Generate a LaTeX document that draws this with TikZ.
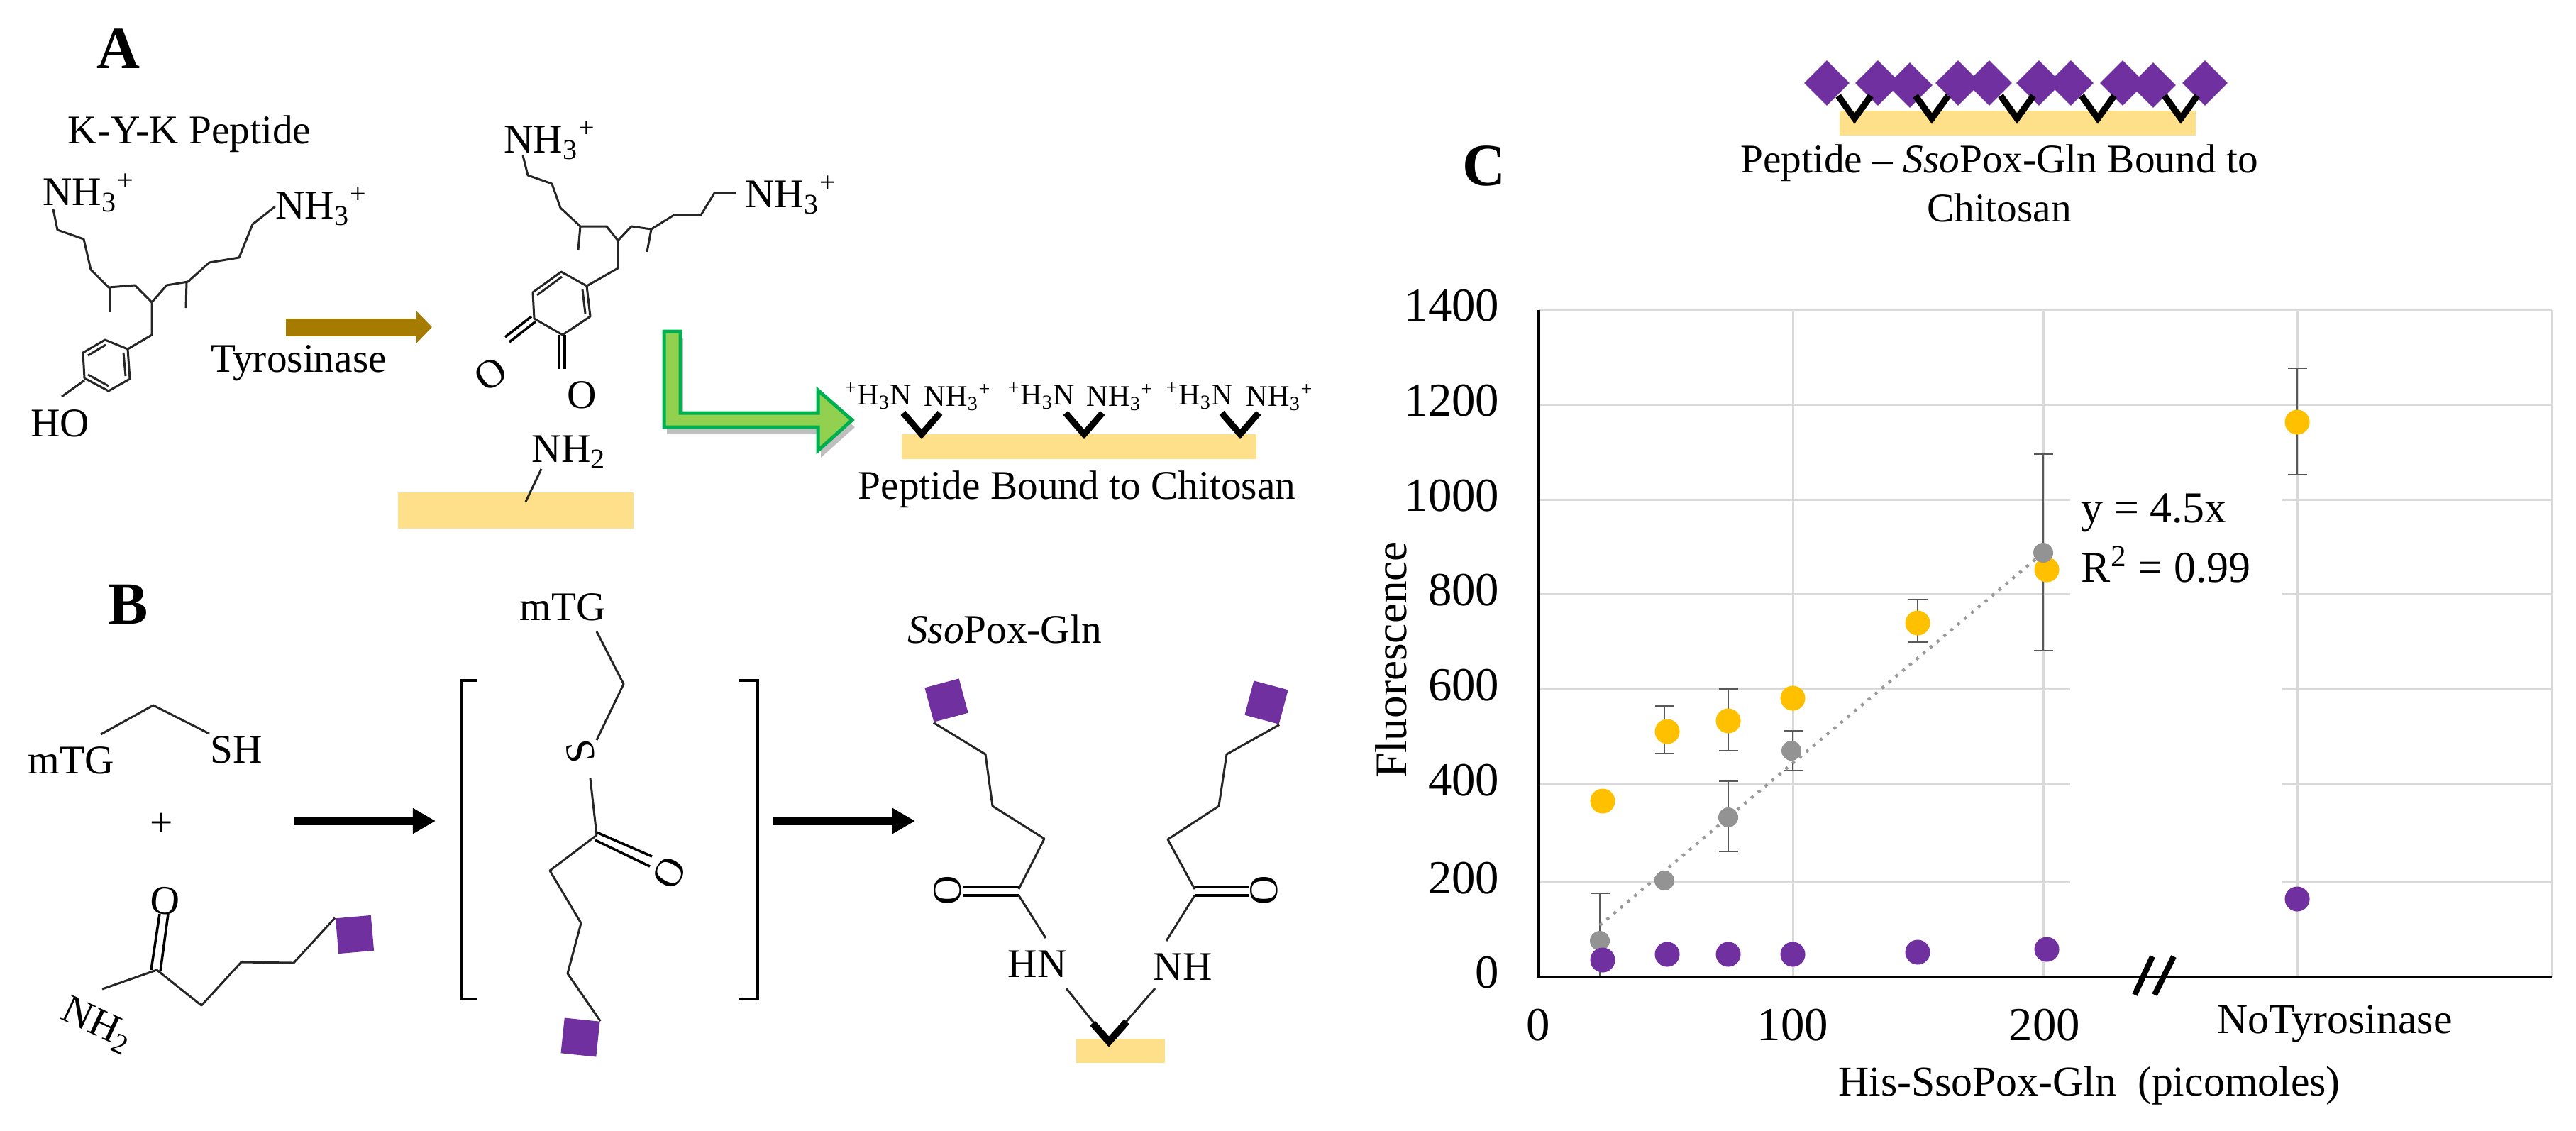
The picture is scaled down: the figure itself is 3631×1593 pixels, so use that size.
\documentclass[tikz,border=0pt]{standalone}
\usepackage{fontspec}
\setmainfont{Liberation Serif}
\usetikzlibrary{shadows, arrows.meta}
\definecolor{chitosan}{HTML}{FFE08A}
\definecolor{enzyme}{HTML}{7030A0}
\definecolor{seriesyellow}{HTML}{FFC000}
\definecolor{seriesgray}{HTML}{939393}
\definecolor{tyrbrown}{HTML}{A67C00}
\definecolor{arrowfill}{HTML}{92D050}
\definecolor{arrowline}{HTML}{00B050}
\tikzset{
    atom/.style = {inner sep=0pt, font=\fontsize{16.3}{19.6}\selectfont},
    smallatom/.style = {inner sep=0pt, font=\fontsize{12}{14}\selectfont},
    panel/.style = {inner sep=0pt, font=\fontsize{24}{28}\selectfont\bfseries},
    ticklabel/.style = {inner sep=0pt, font=\fontsize{19}{22}\selectfont},
    axislabel/.style = {inner sep=0pt, font=\fontsize{17}{20}\selectfont},
    bond/.style = {draw=black!85, line width=0.85pt, line join=round},
    dbond/.style = {draw=black, line width=1pt},
    linker/.style = {draw=black, line width=0.09cm, miter limit=10},
    reaction/.style = {draw=black, line width=0.11cm, -{Triangle[length=0.32cm, width=0.34cm]}},
    bar/.style = {fill=chitosan},
    enzbox/.style = {rectangle, fill=enzyme, inner sep=0pt, minimum size=0.5cm},
    enzdiamond/.style = {rectangle, fill=enzyme, inner sep=0pt, minimum size=0.45cm, rotate=45},
    gridline/.style = {draw=black!15, line width=0.03cm},
    axisline/.style = {draw=black, line width=0.04cm},
    errline/.style = {draw=black!65, line width=0.025cm},
    dot/.style = {circle, inner sep=0pt, minimum size=0.35cm},
}
\newcommand{\errbar}[3]{\draw[errline] (#1-13.5,#2) -- (#1+13.5,#2) (#1,#2) -- (#1,#3) (#1-13.5,#3) -- (#1+13.5,#3);}

\begin{document}
\begin{tikzpicture}[x=0.01cm, y=-0.01cm]
    \useasboundingbox (0,0) rectangle (3631,1593);

    % panel A
    \node (pa) [panel] at (167,69) {A};
    \node (kyk) [atom] at (267,189) {K-Y-K Peptide};
    \node (nha) [atom] at (125,272) {NH\textsubscript{3}\textsuperscript{+}};
    \node (nhb) [atom] at (453,291) {NH\textsubscript{3}\textsuperscript{+}};
    \node (ho) [atom] at (85,597) {HO};
    \draw[bond] (nha.center) ++(-50,23) -- (81,324) -- (118,337) -- (128,380) -- (153,405) -- (190,402)
        -- (214,426) -- (235,402) -- (265,397) -- (295,370) -- (337,363) -- (356,316) -- (nhb.west);
    \draw[bond] (155,405) -- (155,440);
    \draw[bond] (263,397) -- (262,434);
    \draw[bond] (214,426) -- (214,472) -- (180,492);
    \draw[bond] (180,492) -- (183,534) -- (153,551) -- (119,533) -- (117,497) -- (148,479) -- cycle;
    \draw[bond] (124,501) -- (149,486);
    \draw[bond] (124,528) -- (153,544);
    \draw[bond] (174,497) -- (177,530);
    \draw[bond] (ho.center) ++(2,-38) -- (119,536);

    \coordinate (tyrs) at (403,461);
    \coordinate (tyre) at (609,461);
    \draw[draw=tyrbrown, line width=0.25cm, -{Triangle[length=0.22cm, width=0.44cm]}] (tyrs) -- (tyre);
    \node (tyr) [atom] at (421,512) {Tyrosinase};

    \node (nhc) [atom] at (775,198) {NH\textsubscript{3}\textsuperscript{+}};
    \node (nhd) [atom] at (1115,275) {NH\textsubscript{3}\textsuperscript{+}};
    \draw[bond] (nhc.center) ++(-38,21) -- (744,247) -- (778,259) -- (790,293) -- (818,319) -- (855,319) -- (871,339)
        -- (890,319) -- (918,323) -- (950,303) -- (988,303) -- (1007,272) -- (1037,272);
    \draw[bond] (818,319) -- (815,352);
    \draw[bond] (918,323) -- (912,355);
    \draw[bond] (871,339) -- (871,378) -- (827,403);
    \draw[bond] (827,403) -- (832,446) -- (793,472) -- (753,449) -- (751,412) -- (791,383) -- cycle;
    \draw[bond] (757,416) -- (792,390);
    \draw[bond] (821,408) -- (825,442);
    \node (oa) [atom, rotate=35] at (692,527) {O};
    \node (ob) [atom] at (820,557) {O};
    \draw[dbond] (788,472) -- (788,520) (796,472) -- (796,520);
    \draw[dbond] (755,453) -- (718,482) (749,446) -- (712,475);
    \node (nhe) [atom] at (802,637) {NH\textsubscript{2}};
    \fill[bar] (561,694) rectangle (893,745);
    \draw[bond] (nhe.center) ++(-39,24) -- (741,707);

    % green arrow with the bound peptide
    \draw[draw=arrowline, fill=arrowfill, line width=0.05cm,
        drop shadow={shadow xshift=0.04cm, shadow yshift=-0.1cm, opacity=0.25, fill=black}]
        (936,467) -- (959,467) -- (959,582) -- (1153,582) -- (1153,550) -- (1201,592)
        -- (1153,635) -- (1153,602) -- (936,602) -- cycle;
    \fill[bar] (1271,612) rectangle (1771,647);
    \foreach \vx/\hx/\nx [count=\i] in {1299/1238/1350, 1528/1468/1579, 1748/1691/1804} {
        \node (hn\i) [smallatom] at (\hx,558) {\textsuperscript{+}H\textsubscript{3}N};
        \node (nh\i) [smallatom] at (\nx,560) {NH\textsubscript{3}\textsuperscript{+}};
        \draw[linker] (\vx-26,582) -- (\vx,612) -- (\vx+26,582);
    }
    \node (boundpep) [atom] at (1518,690) {Peptide Bound to Chitosan};

    % panel B
    \node (pb) [panel] at (181,852) {B};
    \node (mtga) [atom] at (100,1072) {mTG};
    \node (sh) [atom] at (333,1057) {SH};
    \draw[bond] (mtga.center) ++(42,-37) -- (216,994) -- (295,1034);
    \node (plus) [atom] at (228,1162) {+};
    \node (oc) [atom, rotate=-5] at (233,1270) {O};
    \node (nhf) [atom, rotate=-25] at (137,1445) {NH\textsubscript{2}};
    \node (sqa) [enzbox, rotate=5] at (500,1317) {};
    \draw[dbond] (oc.center) ++(-8,18) -- (213,1367);
    \draw[dbond] (oc.center) ++(4,18) -- (226,1369);
    \draw[bond] (nhf.center) ++(7,-51) -- (221,1367) -- (284,1417) -- (340,1356) -- (414,1357) -- (sqa.north west);

    \coordinate (arrbs) at (414,1157);
    \coordinate (arrbe) at (614,1157);
    \draw[reaction] (arrbs) -- (arrbe);

    \draw[draw=black, line width=0.04cm] (672,959) -- (651,959) -- (651,1408) -- (672,1408);
    \draw[draw=black, line width=0.04cm] (1042,959) -- (1068,959) -- (1068,1408) -- (1042,1408);
    \node (mtgb) [atom] at (793,856) {mTG};
    \node (sa) [atom, rotate=100] at (818,1059) {S};
    \node (od) [atom, rotate=60] at (944,1230) {O};
    \node (sqb) [enzbox, rotate=-6] at (818,1462) {};
    \draw[bond] (mtgb.center) ++(48,34) -- (879,964) -- (841,1043);
    \draw[bond] (sa.center) ++(14,38) -- (841,1177) -- (775,1227) -- (819,1301) -- (800,1372) -- (sqb.north east);
    \draw[dbond] (841,1173) -- (919,1207) (839,1184) -- (916,1221);

    \coordinate (arrcs) at (1090,1157);
    \coordinate (arrce) at (1290,1157);
    \draw[reaction] (arrcs) -- (arrce);

    \node (sso) [atom] at (1416,887) {\textit{Sso}Pox-Gln};
    \node (sql) [enzbox, rotate=15] at (1334,987) {};
    \node (sqr) [enzbox, rotate=-15] at (1785,990) {};
    \node (ol) [atom, rotate=90] at (1336,1255) {O};
    \node (or) [atom, rotate=90] at (1782,1255) {O};
    \node (hnl) [atom] at (1462,1359) {HN};
    \node (nhr) [atom] at (1667,1363) {NH};
    \draw[bond] (sql.south west) -- (1389,1063) -- (1399,1136) -- (1472,1182) -- (1436,1253);
    \draw[bond] (sqr.south east) -- (1729,1063) -- (1718,1136) -- (1646,1183) -- (1684,1253);
    \draw[dbond] (ol.center) ++(21,-5) -- (1436,1250);
    \draw[dbond] (ol.center) ++(21,7) -- (1436,1262);
    \draw[dbond] (or.center) ++(-21,-5) -- (1684,1250);
    \draw[dbond] (or.center) ++(-21,7) -- (1684,1262);
    \draw[bond] (hnl.center) ++(12,-37) -- (1436,1262);
    \draw[bond] (nhr.center) ++(-23,-37) -- (1684,1262);
    \fill[bar] (1517,1464) rectangle (1642,1498);
    \draw[bond] (hnl.center) ++(41,34) -- (1563,1468);
    \draw[bond] (nhr.center) ++(-39,30) -- (1563,1468);
    \draw[linker, line width=0.1cm] (1540,1442) -- (1563,1468) -- (1588,1440);

    % panel C, top
    \node (pc) [panel] at (2092,234) {C};
    \foreach \dx/\dy [count=\i] in {2575/117, 2647/117, 2692/120, 2760/117, 2804/117, 2874/117, 2919/117, 2992/117, 3035/120, 3108/117}
        \node (dia\i) [enzdiamond] at (\dx,\dy) {};
    \fill[bar] (2593,156) rectangle (3095,191);
    \foreach \vx in {2614, 2723, 2843, 2957, 3074}
        \draw[linker] (\vx-23,135) -- (\vx,167) -- (\vx+23,135);
    \node (boundsso) [atom, align=center] at (2818,258) {Peptide -- \textit{Sso}Pox-Gln Bound to\\Chitosan};

    % chart
    \foreach \gy in {704, 837.6, 971.5, 1105.5, 1243} {
        \draw[gridline] (2169,\gy) -- (2918,\gy);
        \draw[gridline] (3217,\gy) -- (3597,\gy);
    }
    \foreach \gy in {437, 570.5}
        \draw[gridline] (2169,\gy) -- (3597,\gy);
    \foreach \gx in {2527, 2880, 3238, 3597}
        \draw[gridline] (\gx,437) -- (\gx,1377);
    \coordinate (ytop) at (2169,437);
    \coordinate (origin) at (2169,1377);
    \coordinate (xend) at (3597,1377);
    \draw[axisline] (ytop) -- (origin) -- (xend);
    \draw[draw=black, line width=0.08cm] (3009,1402) -- (3034,1348) (3037,1402) -- (3064,1348);

    \foreach \yl/\gy in {0/1371, 200/1238, 400/1100, 600/966, 800/832, 1000/699, 1200/565, 1400/431}
        \node (yt\yl) [ticklabel, anchor=east] at (2114,\gy) {\yl};
    \foreach \xl/\gx in {0/2168, 100/2527, 200/2882}
        \node (xt\xl) [ticklabel] at (\gx,1445) {\xl};
    \node (notyr) [axislabel] at (3291,1443) {NoTyrosinase};
    \node (xlabel) [axislabel] at (2945,1530) {His-SsoPox-Gln\ \ (picomoles)};
    \node (ylabel) [ticklabel, rotate=90, font=\fontsize{18}{21}\selectfont] at (1961,930) {Fluorescence};
    \node (eqn) [ticklabel, anchor=west, font=\fontsize{17.6}{21}\selectfont] at (2933,723) {y = 4.5x};
    \node (rsq) [ticklabel, anchor=west, font=\fontsize{17.6}{21}\selectfont] at (2933,796) {R\textsuperscript{2} = 0.99};

    \errbar{2346}{995}{1062}
    \errbar{2436}{971}{1058}
    \errbar{2703}{845}{905}
    \errbar{2880}{640}{917}
    \errbar{3238}{519}{669}
    \errbar{2436}{1101}{1200}
    \errbar{2527}{1030}{1086}
    \draw[errline] (2241.5,1259) -- (2268.5,1259) (2255,1259) -- (2255,1376);
    \coordinate (trends) at (2255,1304);
    \coordinate (trende) at (2880,779);
    \draw[draw=black!40, line width=1.2pt, dash pattern=on 1.2pt off 2.4pt] (trends) -- (trende);

    \foreach \px/\py [count=\i] in {2259/1129, 2350/1031, 2436/1016, 2527/984, 2703/878, 2885/803, 3238/595}
        \node (ydot\i) [dot, fill=seriesyellow] at (\px,\py) {};
    \foreach \px/\py [count=\i] in {2255/1326, 2346/1241, 2436/1152, 2525/1058, 2880/779}
        \node (gdot\i) [dot, fill=seriesgray, minimum size=0.28cm] at (\px,\py) {};
    \foreach \px/\py [count=\i] in {2259/1353, 2350/1345, 2436/1345, 2527/1345, 2703/1342, 2885/1338, 3238/1267}
        \node (pdot\i) [dot, fill=enzyme] at (\px,\py) {};
\end{tikzpicture}
\end{document}
